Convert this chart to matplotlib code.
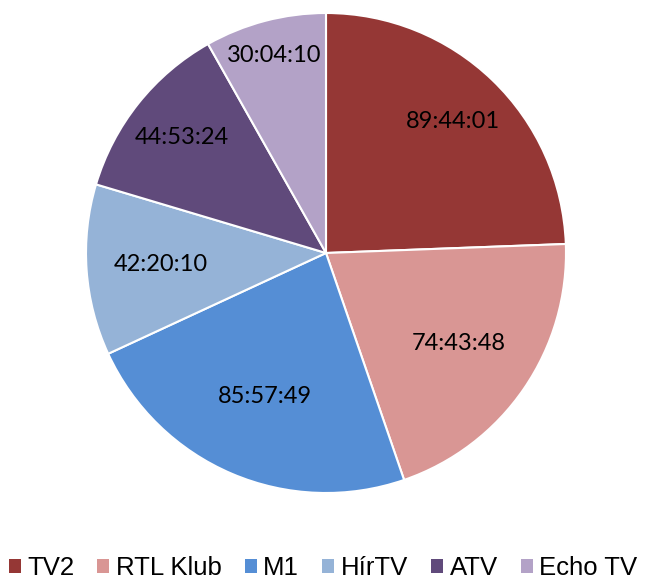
import numpy as np
import matplotlib.pyplot as plt
from matplotlib.patches import Patch

# Channel airtime (h:m:s)
channels = ["TV2", "RTL Klub", "M1", "HírTV", "ATV", "Echo TV"]
durations = ["89:44:01", "74:43:48", "85:57:49", "42:20:10", "44:53:24", "30:04:10"]
colors = ["#953735", "#D99694", "#558ED5", "#95B3D7", "#604A7B", "#B3A2C7"]

def to_seconds(s):
    h, m, sec = [int(p) for p in s.split(":")]
    return h * 3600 + m * 60 + sec

seconds = [to_seconds(d) for d in durations]

fig = plt.figure(figsize=(6.46, 5.8), dpi=100)
ax = fig.add_axes([(326 - 240) / 646, (580 - 493) / 580, 480 / 646, 480 / 580])

wedges, _ = ax.pie(seconds, colors=colors, startangle=90, counterclock=False,
                   wedgeprops=dict(edgecolor="white", linewidth=1.5))
ax.set_xlim(-1, 1)
ax.set_ylim(-1, 1)
ax.set_aspect("equal")

# label distance from centre, per slice (Excel "best fit" look)
label_r = [0.76, 0.67, 0.65, 0.69, 0.77, 0.85]
for w, txt, r in zip(wedges, durations, label_r):
    mid = np.deg2rad((w.theta1 + w.theta2) / 2)
    ax.text(r * np.cos(mid), r * np.sin(mid), txt, ha="center", va="center",
            fontsize=17, family="Lato", color="black")

handles = [Patch(facecolor=c, edgecolor="none") for c in colors]
fig.legend(handles, channels, loc="center", bbox_to_anchor=(0.5, 1 - 568 / 580),
           ncol=6, frameon=False, handlelength=0.47, handleheight=0.47,
           handletextpad=0.25, columnspacing=0.9, borderpad=0, borderaxespad=0,
           prop=dict(family="Liberation Sans", size=18.5))

fig.savefig("out.png", dpi=100)
